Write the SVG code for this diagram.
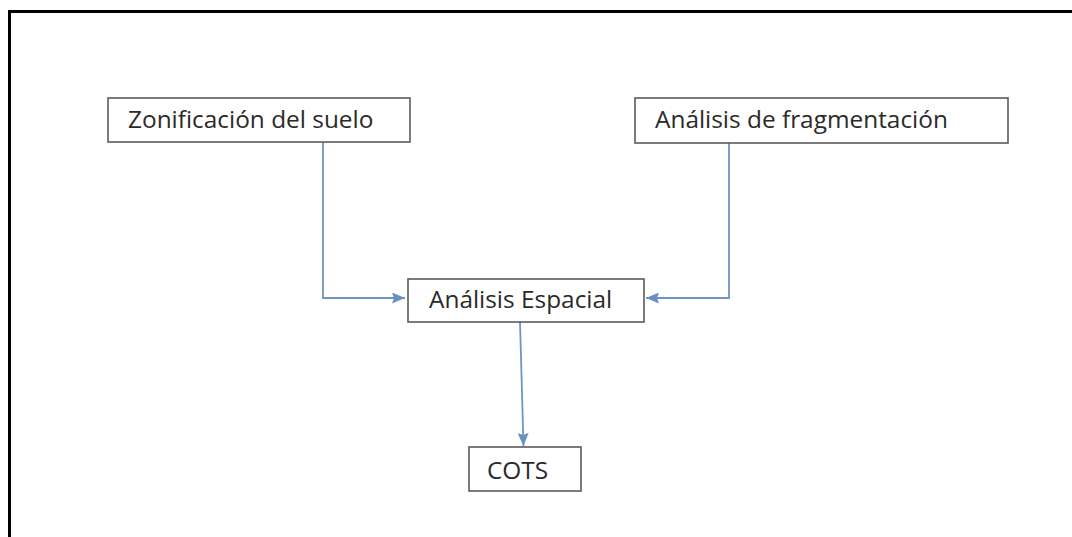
<svg xmlns="http://www.w3.org/2000/svg" width="1072" height="537" viewBox="0 0 1072 537">
<defs>
<style>
.box{fill:#fff;stroke:#5a5a5a;stroke-width:1.6}
.lbl{font-family:"Open Sans","Liberation Sans",sans-serif;font-size:24.4px;fill:#2a2a2a}
.con{fill:none;stroke:#7094c4;stroke-width:1.8}
</style>
<marker id="ah" viewBox="0 0 13 11" refX="13" refY="5.5" markerWidth="13" markerHeight="11" markerUnits="userSpaceOnUse" orient="auto">
<path d="M0,0 L13,5.5 L0,11 L2,5.5 z" fill="#6a8fc2"/>
</marker>
</defs>
<rect width="1072" height="537" fill="#fff"/>
<path d="M9.5,540 V11.5 H1080" fill="none" stroke="#000" stroke-width="3"/>
<g id="connectors">
<path class="con" d="M323,142 V298 H405" marker-end="url(#ah)"/>
<path class="con" d="M729,143 V298 H646" marker-end="url(#ah)"/>
<path class="con" d="M520,322 L523.5,446" marker-end="url(#ah)"/>
</g>
<g id="node-zonificacion">
<rect class="box" x="108" y="98" width="302" height="44"/>
<text class="lbl" x="128" y="128">Zonificación del suelo</text>
</g>
<g id="node-fragmentacion">
<rect class="box" x="635" y="98" width="373" height="45"/>
<text class="lbl" x="655" y="128">Análisis de fragmentación</text>
</g>
<g id="node-espacial">
<rect class="box" x="408" y="279" width="236" height="43"/>
<text class="lbl" x="429" y="308">Análisis Espacial</text>
</g>
<g id="node-cots">
<rect class="box" x="469" y="447" width="112" height="44"/>
<text class="lbl" x="487" y="479">COTS</text>
</g>
</svg>
